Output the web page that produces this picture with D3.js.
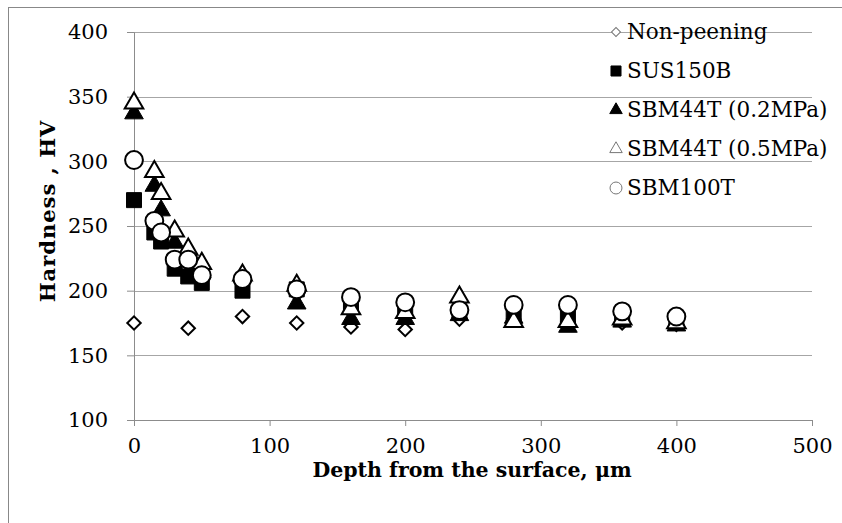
<!DOCTYPE html>
<html>
<head>
<meta charset="utf-8">
<script src="https://cdn.jsdelivr.net/npm/d3@7"></script>
<style>
  body { margin: 0; background: #fff; }
  text { font-family: "DejaVu Serif", serif; fill: #000; }
</style>
</head>
<body>
<div id="chart"></div>
<script>
// values
const depthNP = [0, 40, 80, 120, 160, 200, 240, 280, 320, 360, 400];
const hvNonPeening = [175, 171, 180, 175, 172, 170, 178, 178, 176, 175, 174];

const depth = [0, 15, 20, 30, 40, 50, 80, 120, 160, 200, 240, 280, 320, 360, 400];
const hvSUS150B = [270, 245, 238, 217, 211, 206, 200, 201, 190, 187, 183, 180, 180, 178, 176];
const hvSBM44T02 = [337, 281, 262, 237, 226, 214, 211, 190, 178, 178, 181, 179, 172, 176, 173];
const hvSBM44T05 = [345, 292, 275, 246, 232, 221, 212, 204, 186, 183, 195, 176, 176, 178, 175];
const hvSBM100T = [301, 254, 245, 224, 224, 212, 209, 201, 195, 191, 185, 189, 189, 184, 180];

const xTicks = [0, 100, 200, 300, 400, 500];
const yTicks = [100, 150, 200, 250, 300, 350, 400];

const seriesNames = ["Non-peening", "SUS150B", "SBM44T (0.2MPa)", "SBM44T (0.5MPa)", "SBM100T"];

const series = [
    {name: seriesNames[0], x: depthNP, y: hvNonPeening, shape: "diamond", fill: "#fff"},
    {name: seriesNames[1], x: depth, y: hvSUS150B, shape: "square", fill: "#000"},
    {name: seriesNames[2], x: depth, y: hvSBM44T02, shape: "triangle", fill: "#000"},
    {name: seriesNames[3], x: depth, y: hvSBM44T05, shape: "triangle", fill: "#fff"},
    {name: seriesNames[4], x: depth, y: hvSBM100T, shape: "circle", fill: "#fff"}
];

const W = 842, H = 523;
const margin = {top: 32, right: 30, bottom: 103, left: 134};
const width = W - margin.left - margin.right,
      height = H - margin.top - margin.bottom;

const svg = d3.select("#chart").append("svg")
    .attr("width", W)
    .attr("height", H);

// chart border
svg.append("rect")
    .attr("x", 8.5).attr("y", 7.5)
    .attr("width", W).attr("height", H)
    .attr("fill", "none")
    .attr("stroke", "#888")
    .attr("stroke-width", 1);

const g = svg.append("g")
    .attr("transform", `translate(${margin.left},${margin.top})`);

const x = d3.scaleLinear().domain([0, 500]).range([0, width]);
const y = d3.scaleLinear().domain([100, 400]).range([height, 0]);

// gridlines
g.selectAll(".grid")
    .data(yTicks.slice(1))
  .enter().append("line")
    .attr("class", "grid")
    .attr("x1", 0).attr("x2", width)
    .attr("y1", d => Math.round(y(d)) + 0.5)
    .attr("y2", d => Math.round(y(d)) + 0.5)
    .attr("stroke", "#a6a6a6");

// axes
const yAxis = g.append("g")
    .call(d3.axisLeft(y).tickValues(yTicks).tickSize(7).tickPadding(19));
const xAxis = g.append("g")
    .attr("transform", `translate(0,${height})`)
    .call(d3.axisBottom(x).tickValues(xTicks).tickSize(6).tickPadding(12));

[xAxis, yAxis].forEach(a => {
    a.select(".domain").attr("stroke", "#8c8c8c");
    a.selectAll(".tick line").attr("stroke", "#8c8c8c");
    a.selectAll(".tick text")
        .style("font-family", "DejaVu Serif, serif")
        .style("font-size", "21px")
        .attr("fill", "#000");
});

// axis titles
svg.append("text")
    .attr("x", 472).attr("y", 477)
    .attr("text-anchor", "middle")
    .style("font-size", "20.5px")
    .style("font-weight", "bold")
    .text("Depth from the surface, μm");

svg.append("text")
    .attr("transform", "translate(55,211) rotate(-90)")
    .attr("text-anchor", "middle")
    .style("font-size", "21px")
    .style("font-weight", "bold")
    .style("letter-spacing", "1px")
    .text("Hardness , HV");

function symbolPath(shape, scale) {
    if (shape === "diamond") return d3.symbol(d3.symbolSquare, 90 * scale)();
    if (shape === "square") return d3.symbol(d3.symbolSquare, 225 * scale)();
    if (shape === "triangle") return d3.symbol(d3.symbolTriangle, 150 * scale)();
    return d3.symbol(d3.symbolCircle, 250 * scale)();
}

// markers
series.forEach(s => {
    const pts = s.x.map((d, i) => [d, s.y[i]]);
    g.append("g").selectAll("path")
        .data(pts)
      .enter().append("path")
        .attr("d", symbolPath(s.shape, 1))
        .attr("transform", d => `translate(${x(d[0])},${y(d[1])})` + (s.shape === "diamond" ? " rotate(45)" : ""))
        .attr("fill", s.fill)
        .attr("stroke", "#000")
        .attr("stroke-width", s.fill === "#000" ? 1 : 2);
});

// legend
const legend = svg.append("g").attr("transform", "translate(616,32)");
series.forEach((s, i) => {
    const row = legend.append("g").attr("transform", `translate(0,${i * 39})`);
    row.append("path")
        .attr("d", symbolPath(s.shape, 0.45))
        .attr("transform", s.shape === "diamond" ? "rotate(45)" : null)
        .attr("fill", s.fill)
        .attr("stroke", s.fill === "#000" ? "#000" : "#777")
        .attr("stroke-width", 1);
    row.append("text")
        .attr("x", 11).attr("y", 7)
        .style("font-size", "21.5px")
        .text(s.name);
});
</script>
</body>
</html>
